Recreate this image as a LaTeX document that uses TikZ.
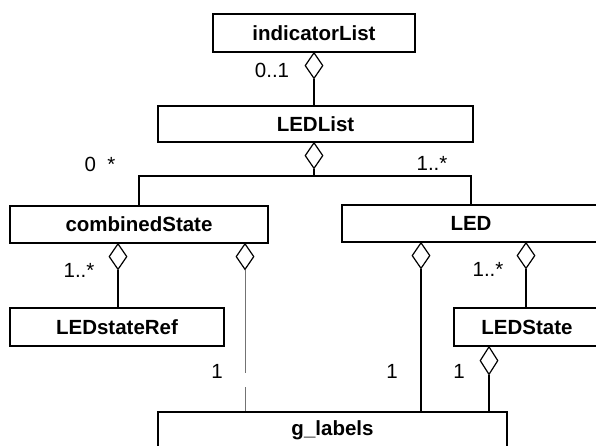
\documentclass[tikz,border=0pt]{standalone}
\usepackage{fontspec}
\setmainfont{Liberation Sans}
\usetikzlibrary{shapes.geometric}
\tikzset{cls/.style={draw,line width=1.2pt,inner sep=0pt,font=\fontsize{20.5}{24}\selectfont\bfseries},
	agg/.style={draw,diamond,line width=1.2pt,fill=white,inner sep=0pt,minimum width=18pt,minimum height=26pt,anchor=north},
	mult/.style={inner sep=0pt,font=\fontsize{20.5}{24}\selectfont},
	faint/.style={line width=0.8pt,draw=black!55}}

\begin{document}
\begin{tikzpicture}[x=1pt,y=-1pt,line width=1.2pt]
	\useasboundingbox (0,0) rectangle (596,445);
	\clip (0,0) rectangle (596,445);
	% classes
	\node[cls,minimum width=202pt,minimum height=38pt] (indicatorList) at (314,33) {indicatorList};
	\node[cls,minimum width=315pt,minimum height=36pt] (LEDList) at (315.5,124) {LEDList};
	\node[cls,minimum width=258pt,minimum height=37pt] (combinedState) at (139,224.5) {combinedState};
	\node[cls,minimum width=258pt,minimum height=37pt] (LED) at (471,223.5) {LED};
	\node[cls,minimum width=214pt,minimum height=38pt] (LEDstateRef) at (117,327) {LEDstateRef};
	\node[cls,minimum width=146pt,minimum height=38pt] (LEDState) at (527,327) {LEDState};
	\node[cls,minimum width=349pt,minimum height=37pt] (g_labels) at (332.5,430.5) {g\_labels};

	% aggregations
	\node[agg] (aggInd) at (314,52) {};
	\draw (aggInd.south) -- (aggInd.south |- LEDList.north);
	\node[agg] (aggList) at (314,142) {};
	\coordinate (bus) at (314,176);
	\draw (aggList.south) -- (bus);
	\draw (combinedState.north) |- (bus) -| (LED.north);

	\node[agg] (aggRef) at (118,243) {};
	\draw (aggRef.south) -- (aggRef.south |- LEDstateRef.north);
	\node[agg] (aggComb) at (245,243) {};
	\coordinate (gapA) at (245,373);
	\coordinate (gapB) at (245,387);
	\draw[faint] (aggComb.south) -- (gapA);
	\draw[faint] (gapB) -- (gapB |- g_labels.north);

	\node[agg] (aggLed) at (421,242) {};
	\draw (aggLed.south) -- (aggLed.south |- g_labels.north);
	\node[agg] (aggState) at (526,242) {};
	\draw (aggState.south) -- (aggState.south |- LEDState.north);
	\node[agg,minimum height=28pt] (aggLbl) at (489,346) {};
	\draw (aggLbl.south) -- (aggLbl.south |- g_labels.north);

	% multiplicities
	\foreach \x/\y/\t [count=\i] in {272/70/0..1, 100/164/0\phantom{..}*, 432/163/1..*, 79/270/1..*,
		488/269/1..*, 217/371/1, 392/371/1, 459/371/1}{
		\node[mult] (m\i) at (\x,\y) {\t};
	}
\end{tikzpicture}
\end{document}
